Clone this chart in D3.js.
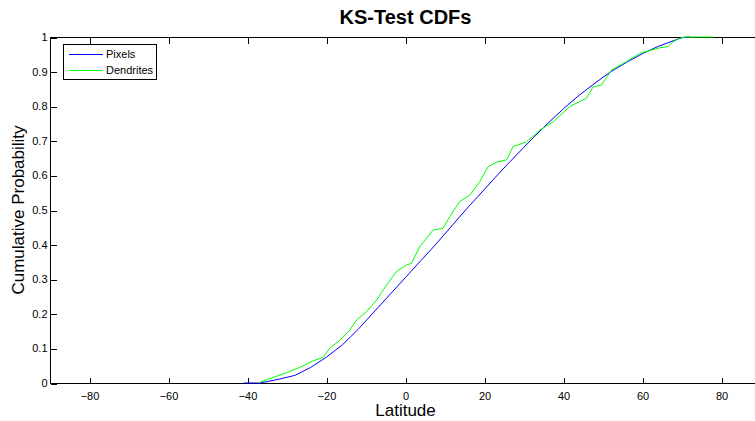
<!DOCTYPE html>
<html>
<head>
<meta charset="utf-8">
<script src="https://cdn.jsdelivr.net/npm/d3@7"></script>
<style>
  html, body { margin: 0; padding: 0; background: #fff; }
  svg { display: block; }
  text { font-family: "Liberation Sans", Arial, Helvetica, sans-serif; }
</style>
</head>
<body>
<div id="chart"></div>
<script>
// ---- data ----
const xTicks = [-80, -60, -40, -20, 0, 20, 40, 60, 80];
const yTicks = [0, 0.1, 0.2, 0.3, 0.4, 0.5, 0.6, 0.7, 0.8, 0.9, 1];
const seriesNames = ["Pixels", "Dendrites"];
const pixelsLat  = [-41, -37, -35, -32, -28, -24, -20, -16, -12, -8, -4, 0, 4, 8, 12, 16, 20, 24, 28, 32, 36, 40, 44, 48, 52, 56, 60, 64, 68, 70, 72];
const pixelsCdf  = [0, 0, 0.004, 0.011, 0.022, 0.045, 0.075, 0.11, 0.155, 0.205, 0.255, 0.305, 0.355, 0.405, 0.458, 0.51, 0.56, 0.61, 0.658, 0.705, 0.75, 0.793, 0.832, 0.867, 0.9, 0.927, 0.952, 0.973, 0.99, 0.998, 1.0];
const dendLat = [-37, -36.5, -33.5, -30.1, -26.8, -23.4, -20.9, -19.2, -16.6, -14.1, -12.4, -9.9, -7.3, -4.8, -2.3, 0.25, 1.5, 3.6, 7, 9.5, 11.2, 13.7, 16.3, 18.8, 20.9, 23, 25.6, 27.2, 30.6, 34, 37.4, 41.6, 45.8, 47.5, 49.6, 52.2, 56, 59.3, 64.4, 66.5, 67.7, 69.4, 70.5, 78];
const dendCdf = [0, 0.004, 0.016, 0.03, 0.045, 0.064, 0.074, 0.10, 0.124, 0.153, 0.182, 0.206, 0.24, 0.283, 0.322, 0.341, 0.346, 0.394, 0.442, 0.447, 0.481, 0.524, 0.543, 0.582, 0.625, 0.638, 0.645, 0.683, 0.697, 0.731, 0.755, 0.799, 0.823, 0.856, 0.861, 0.905, 0.929, 0.953, 0.969, 0.972, 0.986, 0.996, 1, 1];

// ---- layout ----
const W = 755, H = 421;
const L = 50, R = 761, T = 37, B = 383;
const colors = ["#0000ff", "#00ff00"];

const svg = d3.select("#chart").append("svg").attr("width", W).attr("height", H);

const x = d3.scaleLinear().domain([-90, 90]).range([L, R]);
const y = d3.scaleLinear().domain([0, 1]).range([B, T]);

const tickLen = 6;
// axes
const gx = svg.append("g").attr("transform", `translate(0,${B + 0.5})`)
  .call(d3.axisBottom(x).tickValues(xTicks).tickSize(-tickLen).tickPadding(9 + tickLen - 6).tickFormat(d3.format("d")));
const gxTop = svg.append("g").attr("transform", `translate(0,${T + 0.5})`)
  .call(d3.axisTop(x).tickValues(xTicks).tickSize(-tickLen).tickFormat(""));
const gy = svg.append("g").attr("transform", `translate(${L + 0.5},0)`)
  .call(d3.axisLeft(y).tickValues(yTicks).tickSize(-tickLen).tickPadding(3).tickFormat(d => d === 0 ? "0" : d === 1 ? "1" : d3.format(".1f")(d)));
const gyR = svg.append("g").attr("transform", `translate(${R + 0.5},0)`)
  .call(d3.axisRight(y).tickValues(yTicks).tickSize(-tickLen).tickFormat(""));

[gx, gxTop, gy, gyR].forEach(g => {
  g.select(".domain").remove();
  g.selectAll("line").attr("stroke", "#000").attr("shape-rendering", "crispEdges");
  g.selectAll("text").attr("fill", "#000").style("font-size", "11px");
});
gx.selectAll(".tick line").attr("transform", "translate(0.5,0)");
gxTop.selectAll(".tick line").attr("transform", "translate(0.5,0)");
gy.selectAll(".tick line").attr("transform", "translate(0,0.5)");
gyR.selectAll(".tick line").attr("transform", "translate(0,0.5)");

svg.append("rect")
  .attr("x", L + 0.5).attr("y", T + 0.5)
  .attr("width", R - L).attr("height", B - T)
  .attr("fill", "none").attr("stroke", "#000").attr("shape-rendering", "crispEdges");

// curves
const line = d3.line().x(d => x(d[0])).y(d => y(d[1]));
const pixels = pixelsLat.map((v, i) => [v, pixelsCdf[i]]);
const dend = dendLat.map((v, i) => [v, dendCdf[i]]);

svg.append("path").datum(pixels).attr("d", line)
  .attr("fill", "none").attr("stroke", colors[0]).attr("stroke-width", 1);
svg.append("path").datum(dend).attr("d", line)
  .attr("fill", "none").attr("stroke", colors[1]).attr("stroke-width", 1);

// title and labels
svg.append("text").attr("x", (L + R) / 2).attr("y", 24).attr("text-anchor", "middle")
  .style("font-size", "20px").style("font-weight", "bold").text("KS-Test CDFs");
svg.append("text").attr("x", (L + R) / 2).attr("y", 416).attr("text-anchor", "middle")
  .style("font-size", "17px").text("Latitude");
svg.append("text").attr("transform", `translate(24,${(T + B) / 2}) rotate(-90)`).attr("text-anchor", "middle")
  .style("font-size", "17px").text("Cumulative Probability");

// legend
const lg = svg.append("g");
lg.append("rect").attr("x", 63.5).attr("y", 44.5).attr("width", 93).attr("height", 35)
  .attr("fill", "#fff").attr("stroke", "#000").attr("shape-rendering", "crispEdges");
seriesNames.forEach((name, i) => {
  const yy = 54 + i * 16;
  lg.append("line").attr("x1", 69).attr("x2", 103).attr("y1", yy + 0.5).attr("y2", yy + 0.5)
    .attr("stroke", colors[i]).attr("stroke-width", 1);
  lg.append("text").attr("x", 106).attr("y", yy + 4).style("font-size", "11px").attr("fill", "#000").text(name);
});
</script>
</body>
</html>
